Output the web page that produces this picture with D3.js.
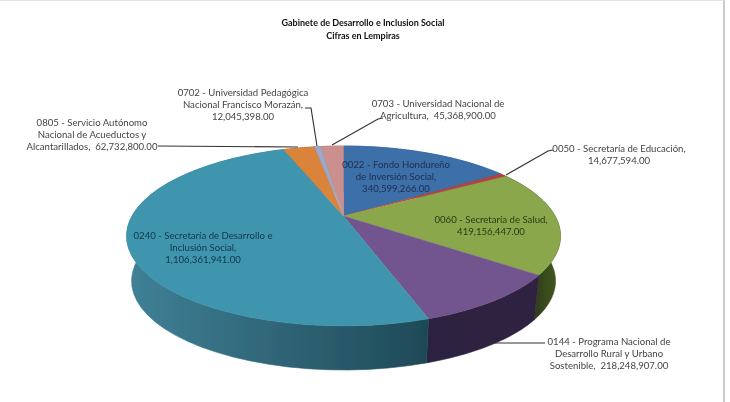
<!DOCTYPE html>
<html><head><meta charset="utf-8">
<script src="https://cdnjs.cloudflare.com/ajax/libs/d3/7.8.5/d3.min.js"></script>
<style>html,body{margin:0;background:#fff}svg{display:block}text{font-family:Lato,"Open Sans",sans-serif;white-space:pre}</style>
</head><body><svg id="c" width="730" height="402"></svg>
<script>
// DATA
const titleLines = ["Gabinete de Desarrollo e Inclusion Social", "Cifras en Lempiras"];
const codes = ["0022","0050","0060","0144","0240","0805","0702","0703"];
const values = [340599266, 14677594, 419156447, 218248907, 1106361941, 62732800, 12045398, 45368900];
const labelLines = [
  ["0022 - Fondo Hondureño","de Inversión Social,","340,599,266.00"],
  ["0050 - Secretaría de Educación,","14,677,594.00"],
  ["0060 - Secretaría de Salud,","419,156,447.00"],
  ["0144 - Programa Nacional de","Desarrollo Rural y Urbano","Sostenible,  218,248,907.00"],
  ["0240 - Secretaría de Desarrollo e","Inclusión Social,","1,106,361,941.00"],
  ["0805 - Servicio Autónomo","Nacional de Acueductos y","Alcantarillados,  62,732,800.00"],
  ["0702 - Universidad Pedagógica","Nacional Francisco Morazán,","12,045,398.00"],
  ["0703 - Universidad Nacional de","Agricultura,  45,368,900.00"]
];

// LAYOUT & STYLE
const topColors = ["#3d6fa9","#b8413f","#8aa84b","#72558f","#3f95ae","#d9833a","#9aa8cd","#cb8f8e"];
const sideStops = {
  0:["#2a4d76","#2a4d76"],1:["#7d2c2b","#7d2c2b"],
  2:["#2f3d18","#41551f"],3:["#2c2040","#2f2340"],
  4:["#1f4a58","#3f8096"],5:["#95592a","#95592a"],6:["#6b7590","#6b7590"],7:["#8c6261","#8c6261"]
};
const labelColors = ["#1d2f4d","#444","#2c3a14","#444","#12364a","#444","#444","#444"];
const labelAt = [[396,165],[619,149],[491,220],[609,342],[203,236],[92,123],[243,93],[438,104]];
const leaders = [
  null,
  [[506,175],[548,151],[553,150]],
  null,
  [[490,343],[545,343]],
  null,
  [[158,146],[298,147]],
  [[317,146],[311,108],[305,108]],
  [[332,145],[378,119],[383,118]]
];
const topE = {cx:343.5, cy:236, rx:217, ry:90};
const botE = {cx:343.5, cy:281, rx:212, ry:89};
const persp = 20/90;   // perspective shift of the pie's apex on its ellipse
const skew = 0.026;    // small clockwise drift of the right-hand side of the view

function project(angle, e, r=1){
  const t = angle + skew*Math.sin(angle);
  const u = r*Math.sin(t), v = r*Math.cos(t);
  const w = 1 + persp*v;
  return [e.cx + e.rx*u*Math.sqrt(1-persp*persp)/w, e.cy - e.ry*(v+persp)/w];
}
const arcs = d3.pie().sort(null).value(d=>d)(values);
const svg = d3.select("#c");
const defs = svg.append("defs");
defs.append("filter").attr("id","soft").attr("x","0").attr("y","0").attr("width","1").attr("height","1")
  .append("feGaussianBlur").attr("stdDeviation",0.5);
const root = svg.append("g").attr("filter","url(#soft)");
root.append("rect").attr("width",730).attr("height",402).attr("fill","#fff");
root.append("line").attr("x1",724).attr("x2",724).attr("y1",0).attr("y2",402).attr("stroke","#a8a8a8").attr("stroke-width",1.2);
root.append("line").attr("x1",0).attr("x2",724).attr("y1",0.5).attr("y2",0.5).attr("stroke","#e4e4e4");

const line = d3.line();
const sample = (a0,a1) => d3.range(0,41).map(i=>a0+(a1-a0)*i/40);

// side wall
const sides = root.append("g");
arcs.forEach((a,i)=>{
  const id="side"+i;
  const g=defs.append("linearGradient").attr("id",id).attr("gradientUnits","userSpaceOnUse")
    .attr("x1",i===4?425:(i===2?535:430)).attr("x2",i===4?130:555).attr("y1",0).attr("y2",0);
  g.append("stop").attr("offset",0).attr("stop-color",sideStops[i][0]);
  g.append("stop").attr("offset",1).attr("stop-color",sideStops[i][1]);
  const as=sample(a.startAngle,a.endAngle);
  const pts=as.map(t=>project(t,topE)).concat(as.slice().reverse().map(t=>project(t,botE)));
  sides.append("path").attr("d",line(pts)+"Z").attr("fill",`url(#${id})`).attr("stroke",`url(#${id})`).attr("stroke-width",.6);
});
// top surface
const apex = project(0,topE,0);
root.append("g").selectAll("path").data(arcs).join("path")
  .attr("d",a=>line([apex].concat(sample(a.startAngle,a.endAngle).map(t=>project(t,topE))))+"Z")
  .attr("fill",(a,i)=>topColors[i]).attr("stroke",(a,i)=>topColors[i]).attr("stroke-width",.4);

// leaders
root.append("g").selectAll("path").data(leaders.filter(Boolean)).join("path")
  .attr("d",d=>line(d)).attr("fill","none").attr("stroke","#333").attr("stroke-width",1.15);

// labels
const lab = root.append("g").attr("font-size",9.6).attr("text-anchor","middle");
labelLines.forEach((ls,i)=>{
  const t=lab.append("text").attr("data-code",codes[i]).attr("fill",labelColors[i])
    .attr("transform",`translate(${labelAt[i][0]},${labelAt[i][1]})`);
  ls.forEach((s,k)=>t.append("tspan").attr("x",0).attr("y",k*12+3.2).text(s));
});
// title
const ti=root.append("text").attr("text-anchor","middle").attr("font-size",9).attr("font-weight",700).attr("fill","#111");
titleLines.forEach((s,k)=>ti.append("tspan").attr("x",363).attr("y",26+k*13).text(s));
</script></body></html>
